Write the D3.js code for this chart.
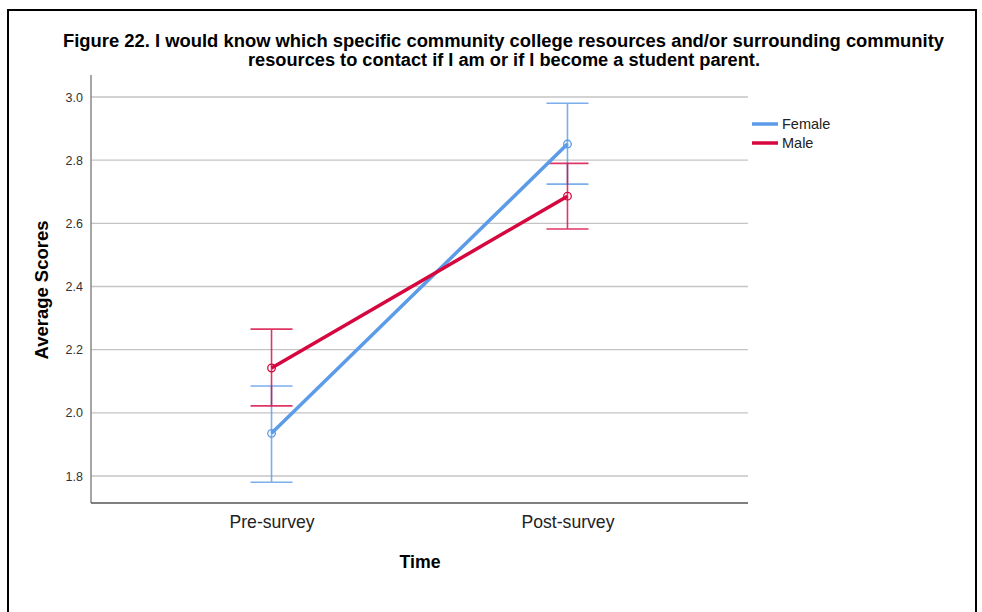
<!DOCTYPE html>
<html>
<head>
<meta charset="utf-8">
<script src="https://cdn.jsdelivr.net/npm/d3@7"></script>
<style>
  body { margin: 0; background: #fff; }
  svg { display: block; }
</style>
</head>
<body>
<svg id="chart" width="982" height="612"></svg>
<script>
// Survey time points and group means with 95% CI bounds
const categories = ["Pre-survey", "Post-survey"];
const groups = ["Female", "Male"];
const femaleMeans = [1.935, 2.851];
const femaleLow = [1.780, 2.724];
const femaleHigh = [2.085, 2.980];
const maleMeans = [2.142, 2.686];
const maleLow = [2.022, 2.582];
const maleHigh = [2.265, 2.790];
const yTicks = [1.8, 2.0, 2.2, 2.4, 2.6, 2.8, 3.0];

const colors = { Female: "#5b9be8", Male: "#d6063f" };
const series = [
  { name: "Female", mean: femaleMeans, low: femaleLow, high: femaleHigh },
  { name: "Male", mean: maleMeans, low: maleLow, high: maleHigh }
];

const svg = d3.select("#chart");
const font = "'Liberation Sans', Arial, sans-serif";

// Outer frame
svg.append("path")
  .attr("d", "M8,613 L8,10 L976,10 L976,613")
  .attr("fill", "none").attr("stroke", "#000").attr("stroke-width", 2);

// Title (condensed to fit its two lines)
const title = svg.append("text")
  .attr("text-anchor", "middle")
  .attr("font-family", font).attr("font-weight", "bold")
  .attr("font-size", 18).attr("fill", "#000");
title.append("tspan").attr("x", 503.5).attr("y", 47)
  .attr("textLength", 881).attr("lengthAdjust", "spacingAndGlyphs")
  .text("Figure 22. I would know which specific community college resources and/or surrounding community");
title.append("tspan").attr("x", 504).attr("y", 66)
  .attr("textLength", 512).attr("lengthAdjust", "spacingAndGlyphs")
  .text("resources to contact if I am or if I become a student parent.");

const plot = { left: 91, right: 748, top: 75, bottom: 503 };

const y = d3.scaleLinear().domain([1.8, 3.0]).range([476, 97]);
const x = d3.scalePoint().domain(categories)
  .range([plot.left, plot.right]).padding(0.61);

// Gridlines
svg.append("g").selectAll("line").data(yTicks).join("line")
  .attr("x1", plot.left).attr("x2", plot.right)
  .attr("y1", d => y(d)).attr("y2", d => y(d))
  .attr("stroke", "#c4c4c4").attr("stroke-width", 1.3);

// Y axis
const yAxis = svg.append("g")
  .attr("transform", `translate(${plot.left},0)`)
  .call(d3.axisLeft(y).tickValues(yTicks).tickFormat(d3.format(".1f")).tickSize(0).tickPadding(8));
yAxis.select(".domain").remove();
yAxis.selectAll("text")
  .attr("font-family", font)
  .attr("font-size", 12.5).attr("fill", "#333");
svg.append("line")
  .attr("x1", plot.left).attr("x2", plot.left)
  .attr("y1", plot.top).attr("y2", plot.bottom)
  .attr("stroke", "#888").attr("stroke-width", 1.5);

// X axis
const labelWidths = { "Pre-survey": 85, "Post-survey": 93 };
const xAxis = svg.append("g")
  .attr("transform", `translate(0,${plot.bottom})`)
  .call(d3.axisBottom(x).tickSize(0).tickPadding(12));
xAxis.select(".domain").remove();
xAxis.selectAll("text")
  .attr("font-family", font)
  .attr("font-size", 18.5).attr("fill", "#222")
  .attr("textLength", d => labelWidths[d])
  .attr("lengthAdjust", "spacingAndGlyphs");
svg.append("line")
  .attr("x1", plot.left).attr("x2", plot.right)
  .attr("y1", plot.bottom).attr("y2", plot.bottom)
  .attr("stroke", "#555").attr("stroke-width", 1.5);

// Axis titles
svg.append("text")
  .attr("transform", "translate(48,290) rotate(-90)")
  .attr("text-anchor", "middle")
  .attr("font-family", font)
  .attr("font-weight", "bold").attr("font-size", 18).attr("fill", "#000")
  .attr("textLength", 139).attr("lengthAdjust", "spacingAndGlyphs")
  .text("Average Scores");
svg.append("text")
  .attr("x", 420).attr("y", 568)
  .attr("text-anchor", "middle")
  .attr("font-family", font)
  .attr("font-weight", "bold").attr("font-size", 18.5).attr("fill", "#000")
  .attr("textLength", 41).attr("lengthAdjust", "spacingAndGlyphs")
  .text("Time");

// Error bars
const capHalf = 21;
series.forEach(s => {
  const g = svg.append("g").attr("stroke", colors[s.name]).attr("stroke-width", 1.6).attr("opacity", 0.8);
  categories.forEach((c, i) => {
    const cx = x(c);
    g.append("line").attr("x1", cx).attr("x2", cx)
      .attr("y1", y(s.low[i])).attr("y2", y(s.high[i]));
    g.append("line").attr("x1", cx - capHalf).attr("x2", cx + capHalf)
      .attr("y1", y(s.low[i])).attr("y2", y(s.low[i]));
    g.append("line").attr("x1", cx - capHalf).attr("x2", cx + capHalf)
      .attr("y1", y(s.high[i])).attr("y2", y(s.high[i]));
  });
});

// Mean lines and markers
const line = d3.line().x((d, i) => x(categories[i])).y(d => y(d));
series.forEach(s => {
  svg.append("path")
    .datum(s.mean)
    .attr("d", line)
    .attr("fill", "none")
    .attr("stroke", colors[s.name]).attr("stroke-width", 3.5);
  svg.append("g").selectAll("circle").data(s.mean).join("circle")
    .attr("cx", (d, i) => x(categories[i])).attr("cy", d => y(d))
    .attr("r", 3.8)
    .attr("fill", "none")
    .attr("stroke", colors[s.name]).attr("stroke-width", 1.3);
});

// Legend
const legend = svg.append("g");
groups.forEach((name, i) => {
  const ly = 124 + i * 19;
  legend.append("line")
    .attr("x1", 752).attr("x2", 778).attr("y1", ly).attr("y2", ly)
    .attr("stroke", colors[name]).attr("stroke-width", 3.5);
  legend.append("text")
    .attr("x", 782).attr("y", ly + 5)
    .attr("font-family", font)
    .attr("font-size", 14.5).attr("fill", "#222")
    .text(name);
});
</script>
</body>
</html>
